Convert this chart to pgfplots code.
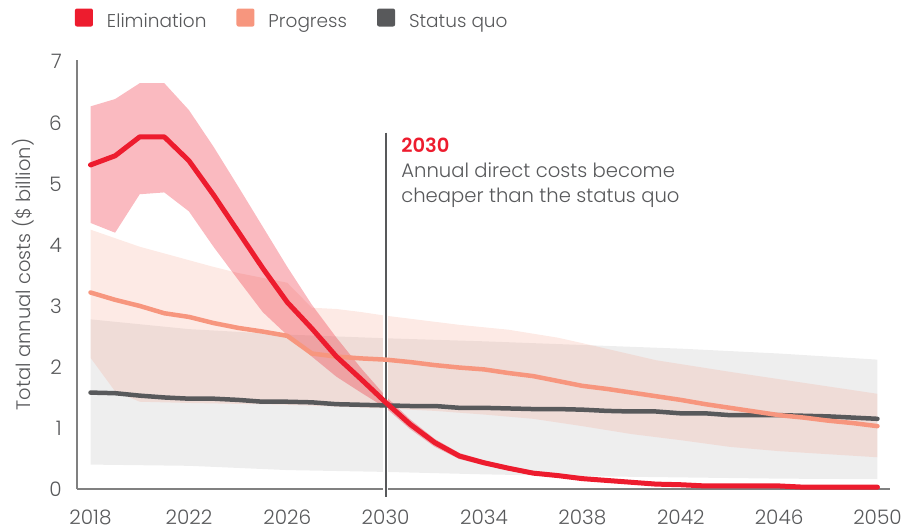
\documentclass[border=0pt]{standalone}
\usepackage{fontspec}
\setmainfont{Poppins}[UprightFont={* Light}, BoldFont={* SemiBold}]
\usepackage{pgfplots}
\pgfplotsset{compat=1.18}
\usepgfplotslibrary{fillbetween}
\definecolor{elim}{HTML}{ED1C2E}
\definecolor{prog}{HTML}{F7967E}
\definecolor{sq}{HTML}{58595B}
\definecolor{txt}{HTML}{58595B}
\definecolor{axisgray}{HTML}{808080}
\definecolor{bandgray}{HTML}{EEEEEE}
\begin{document}
\begin{tikzpicture}
\path (0,0) rectangle (904pt,530pt);
\begin{axis}[
  at={(77pt,41pt)}, anchor=south west,
  scale only axis, width=813pt, height=429pt,
  xmin=2017.45, xmax=2050.51, ymin=0, ymax=7.03,
  axis lines=left, axis line style={-, axisgray, line width=1.2pt},
  xtick={2018,2022,...,2050}, ytick={0,1,...,7},
  major tick length=0pt,
  /pgf/number format/assume math mode=true,
  /pgf/number format/1000 sep={},
  tick label style={font=\fontsize{20pt}{22pt}\selectfont, text=txt},
  xticklabel style={anchor=north, inner sep=0pt, yshift=-21pt},
  yticklabel style={anchor=east, inner sep=0pt, xshift=-15pt},
  ylabel={Total annual costs (\$ billion)},
  ylabel style={at={(axis description cs:-0.0664,0.5)}, anchor=center, font=\fontsize{19.5pt}{22pt}\selectfont, text=txt},
  clip=false,
  legend columns=3,
  legend style={at={(axis description cs:-0.0025,1.0935)}, anchor=west, draw=none, fill=none,
    inner sep=0pt, outer sep=0pt, font=\fontsize{18.5pt}{22pt}\selectfont, text=txt,
    /tikz/every odd column/.append style={column sep=12pt},
    /tikz/every even column/.append style={column sep=28pt}},
  legend image code/.code={\fill[#1, rounded corners=2pt] (0pt,-5pt) rectangle (18pt,13pt);},
]
\addlegendimage{fill=elim, draw=none}
\addlegendentry{Elimination}
\addlegendimage{fill=prog, draw=none}
\addlegendentry{Progress}
\addlegendimage{fill=sq, draw=none}
\addlegendentry{Status quo}

% Status quo band
\addplot[name path=gU, draw=none, forget plot] coordinates {(2018,2.78) (2022,2.62) (2026,2.53) (2030,2.47) (2034,2.42) (2038,2.36) (2042,2.30) (2046,2.22) (2050,2.12)};
\addplot[name path=gL, draw=none, forget plot] coordinates {(2018,0.40) (2022,0.38) (2026,0.31) (2030,0.28) (2034,0.24) (2038,0.21) (2042,0.19) (2046,0.17) (2050,0.16)};
\addplot[fill=bandgray, draw=none, forget plot] fill between[of=gU and gL];

% Progress band
\addplot[name path=pU, draw=none, forget plot] coordinates {(2018,4.25) (2019,4.11) (2020,3.97) (2021,3.86) (2022,3.75) (2023,3.64) (2024,3.54) (2025,3.46) (2026,3.38) (2027,2.97) (2028,2.95) (2029,2.90) (2030,2.84) (2033,2.69) (2035,2.61) (2037,2.48) (2038,2.39) (2041,2.11) (2044,1.92) (2047,1.74) (2050,1.56)};
\addplot[name path=pL, draw=none, forget plot] coordinates {(2018,2.15) (2019,1.60) (2020,1.43) (2022,1.41) (2026,1.38) (2030,1.32) (2032,1.28) (2034,1.22) (2036,1.15) (2038,1.03) (2040,0.90) (2042,0.80) (2044,0.69) (2046,0.62) (2048,0.57) (2050,0.52)};
\addplot[fill=prog, fill opacity=0.2, draw=none, forget plot] fill between[of=pU and pL];

% Elimination band
\addplot[name path=eU, draw=none, forget plot] coordinates {(2018,6.27) (2019,6.39) (2020,6.65) (2021,6.65) (2022,6.21) (2023,5.61) (2024,4.96) (2025,4.30) (2026,3.64) (2027,3.02) (2028,2.48) (2029,1.98) (2030,1.52) (2031,1.14) (2032,0.82) (2033,0.59) (2034,0.47) (2035,0.37) (2036,0.29) (2037,0.24) (2038,0.19) (2039,0.16) (2040,0.12) (2041,0.09) (2042,0.08) (2043,0.06) (2044,0.06) (2045,0.06) (2046,0.06) (2047,0.04) (2048,0.04) (2049,0.04) (2050,0.04)};
\addplot[name path=eL, draw=none, forget plot] coordinates {(2018,4.36) (2019,4.20) (2020,4.83) (2021,4.86) (2022,4.55) (2023,3.97) (2024,3.43) (2025,2.90) (2026,2.52) (2027,2.17) (2028,1.84) (2029,1.58) (2030,1.33) (2031,0.98) (2032,0.69) (2033,0.49) (2034,0.39) (2035,0.31) (2036,0.23) (2037,0.19) (2038,0.14) (2039,0.12) (2040,0.09) (2041,0.07) (2042,0.06) (2043,0.04) (2044,0.04) (2045,0.04) (2046,0.04) (2047,0.02) (2048,0.02) (2049,0.02) (2050,0.02)};
\addplot[fill=elim, fill opacity=0.3, draw=none, forget plot] fill between[of=eU and eL];

% 2030 marker line
\draw[white, line width=5pt] (axis cs:2030,5.84) -- (axis cs:2030,-0.13);
\draw[sq, line width=2pt] (axis cs:2030,5.84) -- (axis cs:2030,-0.13);

% Lines
\addplot[sq, line width=4.5pt, line join=round, line cap=round, forget plot] coordinates {(2018,1.58) (2019,1.57) (2020,1.53) (2021,1.50) (2022,1.48) (2023,1.48) (2024,1.46) (2025,1.43) (2026,1.43) (2027,1.42) (2028,1.39) (2029,1.38) (2030,1.37) (2031,1.36) (2032,1.36) (2033,1.33) (2034,1.33) (2035,1.32) (2036,1.31) (2037,1.31) (2038,1.30) (2039,1.28) (2040,1.27) (2041,1.27) (2042,1.24) (2043,1.24) (2044,1.21) (2045,1.21) (2046,1.21) (2047,1.20) (2048,1.19) (2049,1.17) (2050,1.15)};
\addplot[prog, line width=4.5pt, line join=round, line cap=round, forget plot] coordinates {(2018,3.22) (2019,3.10) (2020,3.00) (2021,2.88) (2022,2.82) (2023,2.72) (2024,2.64) (2025,2.58) (2026,2.51) (2027,2.22) (2028,2.17) (2029,2.14) (2030,2.12) (2031,2.08) (2032,2.03) (2033,1.99) (2034,1.96) (2035,1.90) (2036,1.85) (2037,1.77) (2038,1.69) (2039,1.64) (2040,1.58) (2041,1.52) (2042,1.46) (2043,1.39) (2044,1.33) (2045,1.27) (2046,1.21) (2047,1.17) (2048,1.12) (2049,1.08) (2050,1.03)};
\addplot[elim, line width=5pt, line join=round, line cap=round, forget plot] coordinates {(2018,5.31) (2019,5.46) (2020,5.77) (2021,5.77) (2022,5.38) (2023,4.82) (2024,4.22) (2025,3.62) (2026,3.06) (2027,2.63) (2028,2.17) (2029,1.80) (2030,1.42) (2031,1.06) (2032,0.76) (2033,0.54) (2034,0.43) (2035,0.34) (2036,0.26) (2037,0.22) (2038,0.17) (2039,0.14) (2040,0.11) (2041,0.08) (2042,0.07) (2043,0.05) (2044,0.05) (2045,0.05) (2046,0.05) (2047,0.03) (2048,0.03) (2049,0.03) (2050,0.03)};

% Annotation
\node[anchor=base west, inner sep=0pt, font=\bfseries\fontsize{19.5pt}{22pt}\selectfont, text=elim] at (axis cs:2030.63,5.508) {2030};
\node[anchor=base west, inner sep=0pt, font=\fontsize{19.6pt}{22pt}\selectfont, text=txt] at (axis cs:2030.63,5.098) {Annual direct costs become};
\node[anchor=base west, inner sep=0pt, font=\fontsize{19.6pt}{22pt}\selectfont, text=txt] at (axis cs:2030.63,4.689) {cheaper than the status quo};
\end{axis}
\end{tikzpicture}
\end{document}
